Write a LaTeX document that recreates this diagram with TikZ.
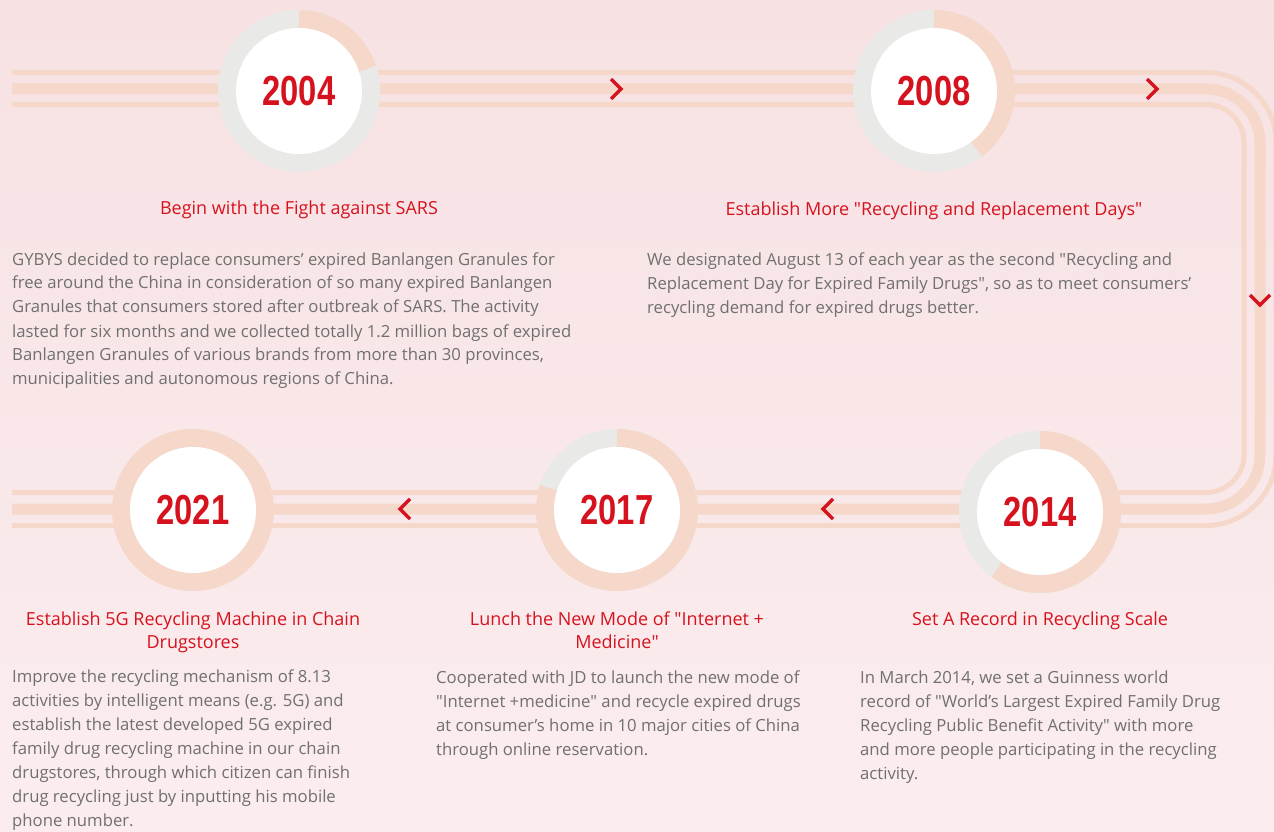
\documentclass[tikz,border=0pt]{standalone}
\usepackage{fontspec}
\setmainfont{Open Sans}
\newfontfamily\yearfont[FakeStretch=0.78]{Liberation Sans}
\definecolor{bgtop}{RGB}{247,225,227}
\definecolor{bgbot}{RGB}{251,237,238}
\definecolor{peach}{RGB}{245,216,201}
\definecolor{ringgrey}{RGB}{233,234,232}
\definecolor{jdred}{RGB}{214,18,30}
\definecolor{bodygrey}{RGB}{112,112,112}
\newcommand{\qq}{\textquotedbl}
\begin{document}
\begin{tikzpicture}[x=1pt,y=1pt,
	track/.style={draw=peach,line width=11pt},
	trackthin/.style={draw=peach,line width=5pt},
	ringbase/.style={draw=ringgrey,line width=18pt},
	ringdone/.style={draw=peach,line width=18pt},
	chevron/.style={draw=jdred,line width=3.5pt},
	yearnode/.style={circle,fill=white,minimum size=126pt,inner sep=0pt,text=jdred,font=\yearfont\bfseries\fontsize{42}{42}\selectfont},
	headnode/.style={text=jdred,font=\fontsize{18}{23.5}\selectfont,align=center,anchor=base,inner sep=0pt},
	bodynode/.style={text=bodygrey,font=\fontsize{16.7}{24}\selectfont,align=left,anchor=base west,inner sep=0pt}]
	\useasboundingbox (0,0) rectangle (1274,831);
	\shade[top color=bgtop,bottom color=bgbot] (0,0) rectangle (1274,831);
	% track
	\draw[trackthin,rounded corners=70pt] (12,758.5) -- (1276,758.5) -- (1276,305.5) -- (12,305.5);
	\draw[track,rounded corners=54pt] (12,742) -- (1260,742) -- (1260,322) -- (12,322);
	\draw[trackthin,rounded corners=38pt] (12,726.5) -- (1244,726.5) -- (1244,338.5) -- (12,338.5);
	\draw[chevron] (611,752) -- (621,742) -- (611,732);
	\draw[chevron] (1147,752) -- (1157,742) -- (1147,732);
	\draw[chevron] (1250,536) -- (1260,526) -- (1270,536);
	\draw[chevron] (833,332) -- (823,322) -- (833,312);
	\draw[chevron] (410,332) -- (400,322) -- (410,312);
	% year rings
	\coordinate (c2004) at (299,740);
	\coordinate (c2008) at (934,740);
	\coordinate (c2014) at (1040,319);
	\coordinate (c2017) at (617,321);
	\coordinate (c2021) at (193,321);
	\draw[ringbase] (c2004) circle (72pt);
	\draw[ringdone] (c2004) ++(90:72pt) arc[start angle=90,end angle=18,radius=72pt];
	\draw[ringbase] (c2008) circle (72pt);
	\draw[ringdone] (c2008) ++(90:72pt) arc[start angle=90,end angle=-54,radius=72pt];
	\draw[ringbase] (c2014) circle (72pt);
	\draw[ringdone] (c2014) ++(90:72pt) arc[start angle=90,end angle=-127,radius=72pt];
	\draw[ringbase] (c2017) circle (72pt);
	\draw[ringdone] (c2017) ++(90:72pt) arc[start angle=90,end angle=-198,radius=72pt];
	\draw[ringdone] (c2021) circle (72pt);
	\node[yearnode] (yr2004) at (c2004) {2004};
	\node[yearnode] (yr2008) at (c2008) {2008};
	\node[yearnode] (yr2014) at (c2014) {2014};
	\node[yearnode] (yr2017) at (c2017) {2017};
	\node[yearnode] (yr2021) at (c2021) {2021};
	% headings (base = last line)
	\node[headnode] (hd2004) at (299,616) {Begin with the Fight against SARS};
	\node[headnode] (hd2008) at (934,615) {Establish More \qq Recycling and Replacement Days\qq};
	\node[headnode] (hd2021) at (193,182.5) {Establish 5G Recycling Machine in Chain\\Drugstores};
	\node[headnode] (hd2017) at (617,182.5) {Lunch the New Mode of \qq Internet +\\Medicine\qq};
	\node[headnode] (hd2014) at (1040,206) {Set A Record in Recycling Scale};
	% texts (base = last line)
	\node[bodynode] (tx2004) at (12,446) {GYBYS decided to replace consumers’ expired Banlangen Granules for\\free around the China in consideration of so many expired Banlangen\\Granules that consumers stored after outbreak of SARS. The activity\\lasted for six months and we collected totally 1.2 million bags of expired\\Banlangen Granules of various brands from more than 30 provinces,\\municipalities and autonomous regions of China.};
	\node[bodynode] (tx2008) at (647,517) {We designated August 13 of each year as the second \qq Recycling and\\Replacement Day for Expired Family Drugs\qq, so as to meet consumers’\\recycling demand for expired drugs better.};
	\node[bodynode] (tx2021) at (12,5) {Improve the recycling mechanism of 8.13\\activities by intelligent means (e.g. 5G) and\\establish the latest developed 5G expired\\family drug recycling machine in our chain\\drugstores, through which citizen can finish\\drug recycling just by inputting his mobile\\phone number.};
	\node[bodynode] (tx2017) at (436,76) {Cooperated with JD to launch the new mode of\\\qq Internet +medicine\qq{} and recycle expired drugs\\at consumer’s home in 10 major cities of China\\through online reservation.};
	\node[bodynode] (tx2014) at (860,52) {In March 2014, we set a Guinness world\\record of \qq World’s Largest Expired Family Drug\\Recycling Public Benefit Activity\qq{} with more\\and more people participating in the recycling\\activity.};
\end{tikzpicture}
\end{document}
